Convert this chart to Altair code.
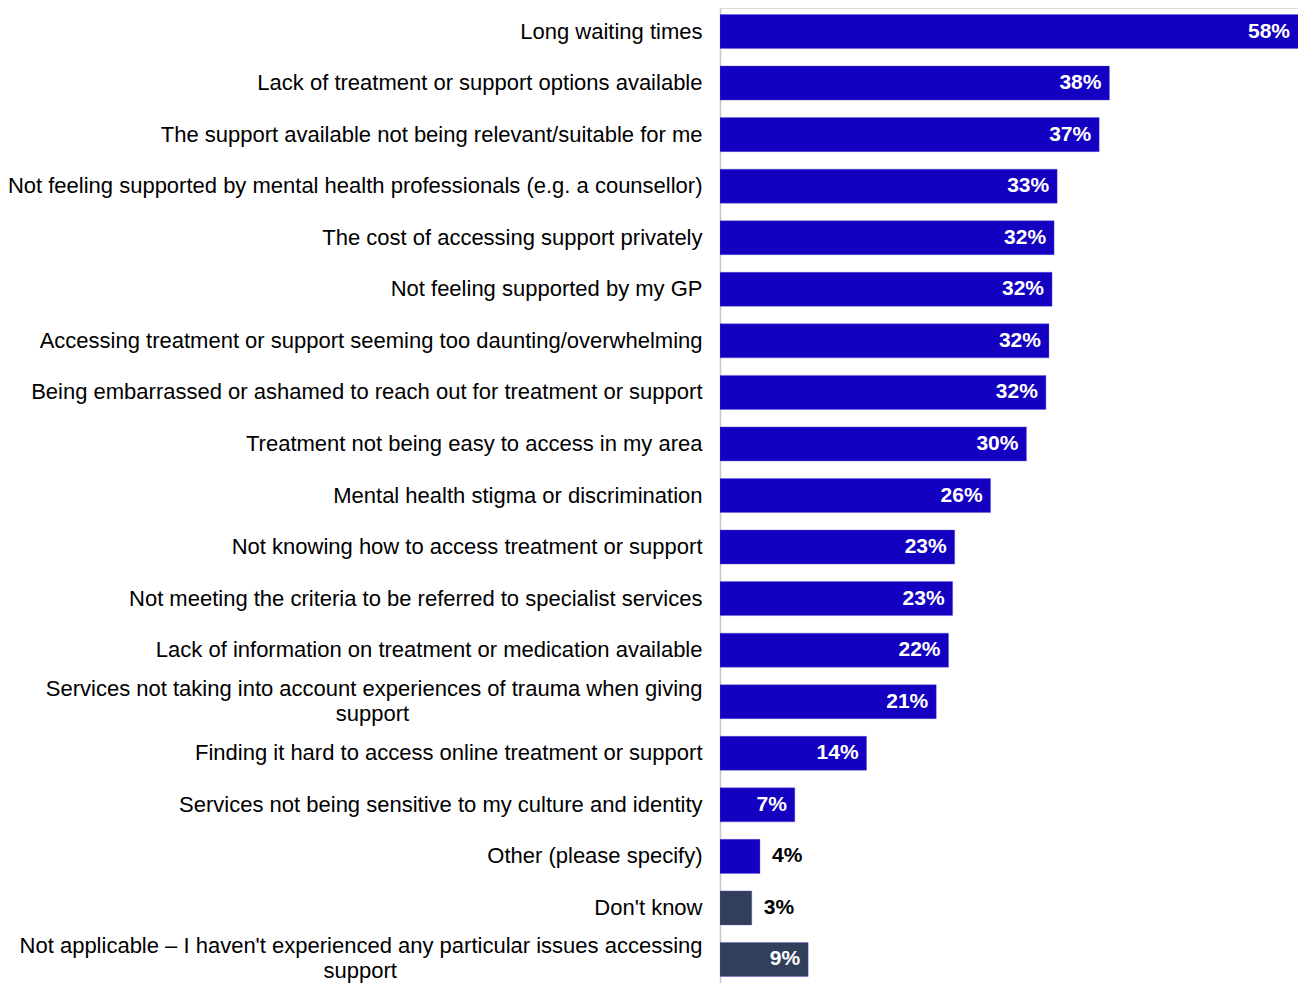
import altair as alt
import pandas as pd

NB = "\u00a0"
ZW = "\u200b"

categories = [
    "Long waiting times",
    "Lack of treatment or support options available",
    "The support available not being relevant/suitable for me",
    "Not feeling supported by mental health professionals (e.g. a counsellor)",
    "The cost of accessing support privately",
    "Not feeling supported by my GP",
    "Accessing treatment or support seeming too daunting/overwhelming",
    "Being embarrassed or ashamed to reach out for treatment or support",
    "Treatment not being easy to access in my area",
    "Mental health stigma or discrimination",
    "Not knowing how to access treatment or support",
    "Not meeting the criteria to be referred to specialist services",
    "Lack of information on treatment or medication available",
    "Services not taking into account experiences of trauma when giving\nsupport" + NB * 48 + ZW,
    "Finding it hard to access online treatment or support",
    "Services not being sensitive to my culture and identity",
    "Other (please specify)",
    "Don't know",
    "Not applicable \u2013 I haven't experienced any particular issues accessing\nsupport" + NB * 50 + ZW,
]

values = [58.0, 38.0, 37.0, 32.9, 32.6, 32.4, 32.1, 31.8, 29.9, 26.4,
          22.9, 22.7, 22.3, 21.1, 14.3, 7.3, 3.9, 3.1, 8.6]

value_labels = ["58%", "38%", "37%", "33%", "32%", "32%", "32%", "32%", "30%", "26%",
                "23%", "23%", "22%", "21%", "14%", "7%", "4%", "3%", "9%"]

groups = ["Barrier"] * 17 + ["Other response"] * 2

df = pd.DataFrame({
    "category": categories,
    "value": values,
    "label": value_labels,
    "group": groups,
})

FONT = "Liberation Sans"
XMAX = 56.4

y_enc = alt.Y(
    "category:N",
    sort=categories,
    title=None,
    scale=alt.Scale(paddingInner=0.34, paddingOuter=0.126),
    axis=alt.Axis(
        labelExpr="split(datum.label, '\\n')",
        labelFont=FONT,
        labelFontSize=22,
        labelColor="#000000",
        labelPadding=18,
        labelLimit=900,
        labelLineHeight=25,
        labelOffset={"condition": {"test": "indexof(datum.label, '\\n') >= 0", "value": -13}, "value": 0},
        ticks=False,
        domainColor="#C8C8C8",
        domainWidth=1.5,
        grid=False,
    ),
)

x_enc = alt.X("value:Q", scale=alt.Scale(domain=[0, XMAX], nice=False, zero=True), axis=None)

bars = alt.Chart(df).mark_bar(clip=True, stroke="#5A50D8", strokeWidth=0.6, strokeOpacity=0.6).encode(
    y=y_enc,
    x=x_enc,
    color=alt.Color(
        "group:N",
        scale=alt.Scale(domain=["Barrier", "Other response"], range=["#1400C0", "#323F5B"]),
        legend=None,
    ),
)

base_text = alt.Chart(df).transform_calculate(lx=f"min(datum.value, {XMAX})")

inside = base_text.transform_filter("datum.value >= 5").mark_text(
    align="right", baseline="middle", dx=-8, font=FONT, fontSize=21, fontWeight="bold", color="#FFFFFF"
).encode(y=alt.Y("category:N", sort=categories), x="lx:Q", text="label:N")

outside = base_text.transform_filter("datum.value < 5").mark_text(
    align="left", baseline="middle", dx=12, font=FONT, fontSize=21, fontWeight="bold", color="#000000"
).encode(y=alt.Y("category:N", sort=categories), x="lx:Q", text="label:N")

chart = alt.layer(bars, inside, outside).properties(
    width=578,
    height=975,
    autosize=alt.AutoSizeParams(type="none"),
    padding={"left": 712, "top": 0, "right": 0, "bottom": 0},
).configure_view(stroke=None).configure(background="#FFFFFF")

chart.save("out.html", embed_options={"renderer": "svg", "actions": False})
